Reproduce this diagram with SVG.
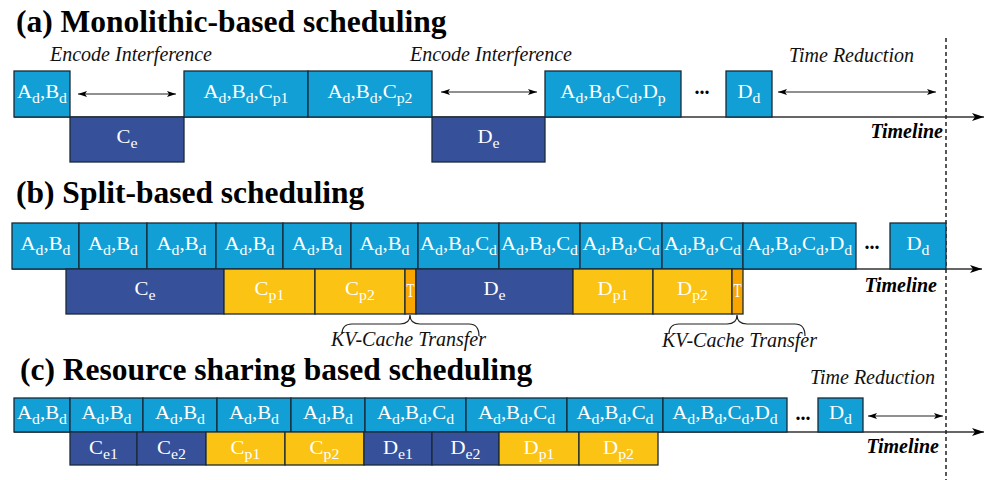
<svg xmlns="http://www.w3.org/2000/svg" width="997" height="480" viewBox="0 0 997 480">
<style>
text{font-family:'Liberation Serif','Times New Roman',Times,serif}
.title{font-weight:bold;font-size:31.5px;fill:#000}
.it{font-style:italic;font-size:20px;fill:#111}
.tl{font-style:italic;font-weight:bold;font-size:20px;fill:#000;text-anchor:end}
.dots{font-weight:bold;font-size:20px;fill:#000;text-anchor:middle}
.lb{font-size:18.5px;fill:#fff;text-anchor:middle;transform-box:fill-box;transform-origin:center;transform:scaleX(1.13)}
.tt{font-size:18.5px;fill:#fff;text-anchor:middle}
.s{font-size:14px}
.lbbox{fill:#129fd5;stroke:#1a2a38;stroke-width:1.3}
.dk{fill:#36519a;stroke:#1a2a38;stroke-width:1.3}
.yl{fill:#fbc314;stroke:#1a2a38;stroke-width:1.3}
.or{fill:#f8a500;stroke:#1a2a38;stroke-width:1.3}
.axis{stroke:#333;stroke-width:1.6;fill:none}
.dbl{stroke:#222;stroke-width:1.2;fill:none}
.brace{stroke:#222;stroke-width:1.2;fill:none}
.dash{stroke:#222;stroke-width:1.5;stroke-dasharray:4 3;fill:none}
</style>
<defs>
<marker id="tip" markerUnits="userSpaceOnUse" markerWidth="14" markerHeight="10" refX="12" refY="4" orient="auto">
<path d="M0,0 L12,4 L0,8 L3,4 Z" fill="#000"/>
</marker>
<marker id="sm" markerUnits="userSpaceOnUse" markerWidth="10" markerHeight="8" refX="9" refY="3" orient="auto-start-reverse">
<path d="M0,0 L9,3 L0,6 L2,3 Z" fill="#000"/>
</marker>
</defs>

<!-- titles and annotations -->
<text class="title" x="16" y="32">(a) Monolithic-based scheduling</text>
<text class="title" x="16" y="203">(b) Split-based scheduling</text>
<text class="title" x="20" y="380">(c) Resource sharing based scheduling</text>
<text class="it" x="50" y="61">Encode Interference</text>
<text class="it" x="410" y="61">Encode Interference</text>
<text class="it" x="789" y="62">Time Reduction</text>
<text class="it" x="810" y="384">Time Reduction</text>
<text class="it" x="408.5" y="346" text-anchor="middle">KV-Cache Transfer</text>
<text class="it" x="739.5" y="347" text-anchor="middle">KV-Cache Transfer</text>
<text class="tl" x="943" y="138">Timeline</text>
<text class="tl" x="937" y="292">Timeline</text>
<text class="tl" x="939" y="453">Timeline</text>
<text class="dots" x="702" y="94">...</text>
<text class="dots" x="872" y="249">...</text>
<text class="dots" x="803" y="420">...</text>

<!-- connectors -->
<g id="connectors">
<line class="axis" x1="14" y1="117" x2="984" y2="117" marker-end="url(#tip)"/>
<line class="axis" x1="12" y1="269" x2="982" y2="269" marker-end="url(#tip)"/>
<line class="axis" x1="14" y1="432" x2="984" y2="432" marker-end="url(#tip)"/>
<line class="dash" x1="946" y1="38" x2="946" y2="480"/>
<line class="dbl" x1="78" y1="94" x2="176" y2="94" marker-start="url(#sm)" marker-end="url(#sm)"/>
<line class="dbl" x1="441" y1="92" x2="537" y2="92" marker-start="url(#sm)" marker-end="url(#sm)"/>
<line class="dbl" x1="778" y1="92" x2="936" y2="92" marker-start="url(#sm)" marker-end="url(#sm)"/>
<line class="dbl" x1="868" y1="416" x2="943" y2="416" marker-start="url(#sm)" marker-end="url(#sm)"/>
<path class="brace" d="M342,334 Q342,324 352,324 L400,324 Q410,324 410,315 Q410,324 420,324 L469,324 Q479,324 479,336"/>
<path class="brace" d="M669,334 Q669,324 679,324 L727,324 Q737,324 737,315 Q737,324 747,324 L795,324 Q805,324 805,336"/>
</g>

<!-- (a) nodes -->
<g id="a_ab"><rect class="lbbox" x="14" y="71" width="56" height="46"/><text class="lb" x="42" y="98">A<tspan class="s" dy="5.5">d</tspan><tspan dy="-5.5">,B</tspan><tspan class="s" dy="5.5">d</tspan></text></g>
<g id="a_ce"><rect class="dk" x="70" y="117" width="114" height="45"/><text class="lb" x="127" y="143">C<tspan class="s" dy="5.5">e</tspan></text></g>
<g id="a_cp1"><rect class="lbbox" x="184" y="71" width="124" height="46"/><text class="lb" x="246" y="98">A<tspan class="s" dy="5.5">d</tspan><tspan dy="-5.5">,B</tspan><tspan class="s" dy="5.5">d</tspan><tspan dy="-5.5">,C</tspan><tspan class="s" dy="5.5">p1</tspan></text></g>
<g id="a_cp2"><rect class="lbbox" x="308" y="71" width="124" height="46"/><text class="lb" x="370" y="98">A<tspan class="s" dy="5.5">d</tspan><tspan dy="-5.5">,B</tspan><tspan class="s" dy="5.5">d</tspan><tspan dy="-5.5">,C</tspan><tspan class="s" dy="5.5">p2</tspan></text></g>
<g id="a_de"><rect class="dk" x="432" y="117" width="113" height="45"/><text class="lb" x="488.5" y="143">D<tspan class="s" dy="5.5">e</tspan></text></g>
<g id="a_dp"><rect class="lbbox" x="545" y="71" width="136" height="46"/><text class="lb" x="613" y="98">A<tspan class="s" dy="5.5">d</tspan><tspan dy="-5.5">,B</tspan><tspan class="s" dy="5.5">d</tspan><tspan dy="-5.5">,C</tspan><tspan class="s" dy="5.5">d</tspan><tspan dy="-5.5">,D</tspan><tspan class="s" dy="5.5">p</tspan></text></g>
<g id="a_dd"><rect class="lbbox" x="726" y="71" width="46" height="46"/><text class="lb" x="749" y="98">D<tspan class="s" dy="5.5">d</tspan></text></g>

<!-- (b) nodes -->
<g id="b_ab1"><rect class="lbbox" x="12" y="223" width="67" height="46"/><text class="lb" x="45.5" y="250">A<tspan class="s" dy="5.5">d</tspan><tspan dy="-5.5">,B</tspan><tspan class="s" dy="5.5">d</tspan></text></g>
<g id="b_ab2"><rect class="lbbox" x="79" y="223" width="68" height="46"/><text class="lb" x="113" y="250">A<tspan class="s" dy="5.5">d</tspan><tspan dy="-5.5">,B</tspan><tspan class="s" dy="5.5">d</tspan></text></g>
<g id="b_ab3"><rect class="lbbox" x="147" y="223" width="69" height="46"/><text class="lb" x="181.5" y="250">A<tspan class="s" dy="5.5">d</tspan><tspan dy="-5.5">,B</tspan><tspan class="s" dy="5.5">d</tspan></text></g>
<g id="b_ab4"><rect class="lbbox" x="216" y="223" width="67" height="46"/><text class="lb" x="249.5" y="250">A<tspan class="s" dy="5.5">d</tspan><tspan dy="-5.5">,B</tspan><tspan class="s" dy="5.5">d</tspan></text></g>
<g id="b_ab5"><rect class="lbbox" x="283" y="223" width="68" height="46"/><text class="lb" x="317" y="250">A<tspan class="s" dy="5.5">d</tspan><tspan dy="-5.5">,B</tspan><tspan class="s" dy="5.5">d</tspan></text></g>
<g id="b_ab6"><rect class="lbbox" x="351" y="223" width="67" height="46"/><text class="lb" x="384.5" y="250">A<tspan class="s" dy="5.5">d</tspan><tspan dy="-5.5">,B</tspan><tspan class="s" dy="5.5">d</tspan></text></g>
<g id="b_abc1"><rect class="lbbox" x="418" y="223" width="81" height="46"/><text class="lb" x="458.5" y="250">A<tspan class="s" dy="5.5">d</tspan><tspan dy="-5.5">,B</tspan><tspan class="s" dy="5.5">d</tspan><tspan dy="-5.5">,C</tspan><tspan class="s" dy="5.5">d</tspan></text></g>
<g id="b_abc2"><rect class="lbbox" x="499" y="223" width="81" height="46"/><text class="lb" x="539.5" y="250">A<tspan class="s" dy="5.5">d</tspan><tspan dy="-5.5">,B</tspan><tspan class="s" dy="5.5">d</tspan><tspan dy="-5.5">,C</tspan><tspan class="s" dy="5.5">d</tspan></text></g>
<g id="b_abc3"><rect class="lbbox" x="580" y="223" width="82" height="46"/><text class="lb" x="621" y="250">A<tspan class="s" dy="5.5">d</tspan><tspan dy="-5.5">,B</tspan><tspan class="s" dy="5.5">d</tspan><tspan dy="-5.5">,C</tspan><tspan class="s" dy="5.5">d</tspan></text></g>
<g id="b_abc4"><rect class="lbbox" x="662" y="223" width="81" height="46"/><text class="lb" x="702.5" y="250">A<tspan class="s" dy="5.5">d</tspan><tspan dy="-5.5">,B</tspan><tspan class="s" dy="5.5">d</tspan><tspan dy="-5.5">,C</tspan><tspan class="s" dy="5.5">d</tspan></text></g>
<g id="b_abcd"><rect class="lbbox" x="743" y="223" width="113" height="46"/><text class="lb" x="799.5" y="250">A<tspan class="s" dy="5.5">d</tspan><tspan dy="-5.5">,B</tspan><tspan class="s" dy="5.5">d</tspan><tspan dy="-5.5">,C</tspan><tspan class="s" dy="5.5">d</tspan><tspan dy="-5.5">,D</tspan><tspan class="s" dy="5.5">d</tspan></text></g>
<g id="b_dd"><rect class="lbbox" x="890" y="223" width="56" height="46"/><text class="lb" x="918" y="250">D<tspan class="s" dy="5.5">d</tspan></text></g>
<g id="b_ce"><rect class="dk" x="66" y="269" width="158" height="45"/><text class="lb" x="145" y="295">C<tspan class="s" dy="5.5">e</tspan></text></g>
<g id="b_cp1"><rect class="yl" x="224" y="269" width="91" height="45"/><text class="lb" x="269.5" y="295">C<tspan class="s" dy="5.5">p1</tspan></text></g>
<g id="b_cp2"><rect class="yl" x="315" y="269" width="90" height="45"/><text class="lb" x="360" y="295">C<tspan class="s" dy="5.5">p2</tspan></text></g>
<g id="b_t1"><rect class="or" x="405" y="269" width="11" height="45"/><text class="tt" x="410.5" y="297" textLength="8" lengthAdjust="spacingAndGlyphs">T</text></g>
<g id="b_de"><rect class="dk" x="416" y="269" width="157" height="45"/><text class="lb" x="494.5" y="295">D<tspan class="s" dy="5.5">e</tspan></text></g>
<g id="b_dp1"><rect class="yl" x="573" y="269" width="80" height="45"/><text class="lb" x="613" y="295">D<tspan class="s" dy="5.5">p1</tspan></text></g>
<g id="b_dp2"><rect class="yl" x="653" y="269" width="79" height="45"/><text class="lb" x="692.5" y="295">D<tspan class="s" dy="5.5">p2</tspan></text></g>
<g id="b_t2"><rect class="or" x="732" y="269" width="11" height="45"/><text class="tt" x="737.5" y="297" textLength="8" lengthAdjust="spacingAndGlyphs">T</text></g>

<!-- (c) nodes -->
<g id="c_ab1"><rect class="lbbox" x="14" y="398" width="56" height="34"/><text class="lb" x="42" y="419">A<tspan class="s" dy="5.5">d</tspan><tspan dy="-5.5">,B</tspan><tspan class="s" dy="5.5">d</tspan></text></g>
<g id="c_ab2"><rect class="lbbox" x="70" y="398" width="73" height="34"/><text class="lb" x="106.5" y="419">A<tspan class="s" dy="5.5">d</tspan><tspan dy="-5.5">,B</tspan><tspan class="s" dy="5.5">d</tspan></text></g>
<g id="c_ab3"><rect class="lbbox" x="143" y="398" width="74" height="34"/><text class="lb" x="180" y="419">A<tspan class="s" dy="5.5">d</tspan><tspan dy="-5.5">,B</tspan><tspan class="s" dy="5.5">d</tspan></text></g>
<g id="c_ab4"><rect class="lbbox" x="217" y="398" width="74" height="34"/><text class="lb" x="254" y="419">A<tspan class="s" dy="5.5">d</tspan><tspan dy="-5.5">,B</tspan><tspan class="s" dy="5.5">d</tspan></text></g>
<g id="c_ab5"><rect class="lbbox" x="291" y="398" width="74" height="34"/><text class="lb" x="328" y="419">A<tspan class="s" dy="5.5">d</tspan><tspan dy="-5.5">,B</tspan><tspan class="s" dy="5.5">d</tspan></text></g>
<g id="c_abc1"><rect class="lbbox" x="365" y="398" width="101" height="34"/><text class="lb" x="415.5" y="419">A<tspan class="s" dy="5.5">d</tspan><tspan dy="-5.5">,B</tspan><tspan class="s" dy="5.5">d</tspan><tspan dy="-5.5">,C</tspan><tspan class="s" dy="5.5">d</tspan></text></g>
<g id="c_abc2"><rect class="lbbox" x="466" y="398" width="101" height="34"/><text class="lb" x="516.5" y="419">A<tspan class="s" dy="5.5">d</tspan><tspan dy="-5.5">,B</tspan><tspan class="s" dy="5.5">d</tspan><tspan dy="-5.5">,C</tspan><tspan class="s" dy="5.5">d</tspan></text></g>
<g id="c_abc3"><rect class="lbbox" x="567" y="398" width="96" height="34"/><text class="lb" x="615" y="419">A<tspan class="s" dy="5.5">d</tspan><tspan dy="-5.5">,B</tspan><tspan class="s" dy="5.5">d</tspan><tspan dy="-5.5">,C</tspan><tspan class="s" dy="5.5">d</tspan></text></g>
<g id="c_abcd"><rect class="lbbox" x="663" y="398" width="124" height="34"/><text class="lb" x="725" y="419">A<tspan class="s" dy="5.5">d</tspan><tspan dy="-5.5">,B</tspan><tspan class="s" dy="5.5">d</tspan><tspan dy="-5.5">,C</tspan><tspan class="s" dy="5.5">d</tspan><tspan dy="-5.5">,D</tspan><tspan class="s" dy="5.5">d</tspan></text></g>
<g id="c_dd"><rect class="lbbox" x="818" y="398" width="45" height="34"/><text class="lb" x="840.5" y="419">D<tspan class="s" dy="5.5">d</tspan></text></g>
<g id="c_ce1"><rect class="dk" x="70" y="432" width="67" height="33"/><text class="lb" x="103.5" y="454">C<tspan class="s" dy="5.5">e1</tspan></text></g>
<g id="c_ce2"><rect class="dk" x="137" y="432" width="69" height="33"/><text class="lb" x="171.5" y="454">C<tspan class="s" dy="5.5">e2</tspan></text></g>
<g id="c_cp1"><rect class="yl" x="206" y="432" width="79" height="33"/><text class="lb" x="245.5" y="454">C<tspan class="s" dy="5.5">p1</tspan></text></g>
<g id="c_cp2"><rect class="yl" x="285" y="432" width="79" height="33"/><text class="lb" x="324.5" y="454">C<tspan class="s" dy="5.5">p2</tspan></text></g>
<g id="c_de1"><rect class="dk" x="364" y="432" width="68" height="33"/><text class="lb" x="398" y="454">D<tspan class="s" dy="5.5">e1</tspan></text></g>
<g id="c_de2"><rect class="dk" x="432" y="432" width="67" height="33"/><text class="lb" x="465.5" y="454">D<tspan class="s" dy="5.5">e2</tspan></text></g>
<g id="c_dp1"><rect class="yl" x="499" y="432" width="80" height="33"/><text class="lb" x="539" y="454">D<tspan class="s" dy="5.5">p1</tspan></text></g>
<g id="c_dp2"><rect class="yl" x="579" y="432" width="79" height="33"/><text class="lb" x="618.5" y="454">D<tspan class="s" dy="5.5">p2</tspan></text></g>
</svg>
